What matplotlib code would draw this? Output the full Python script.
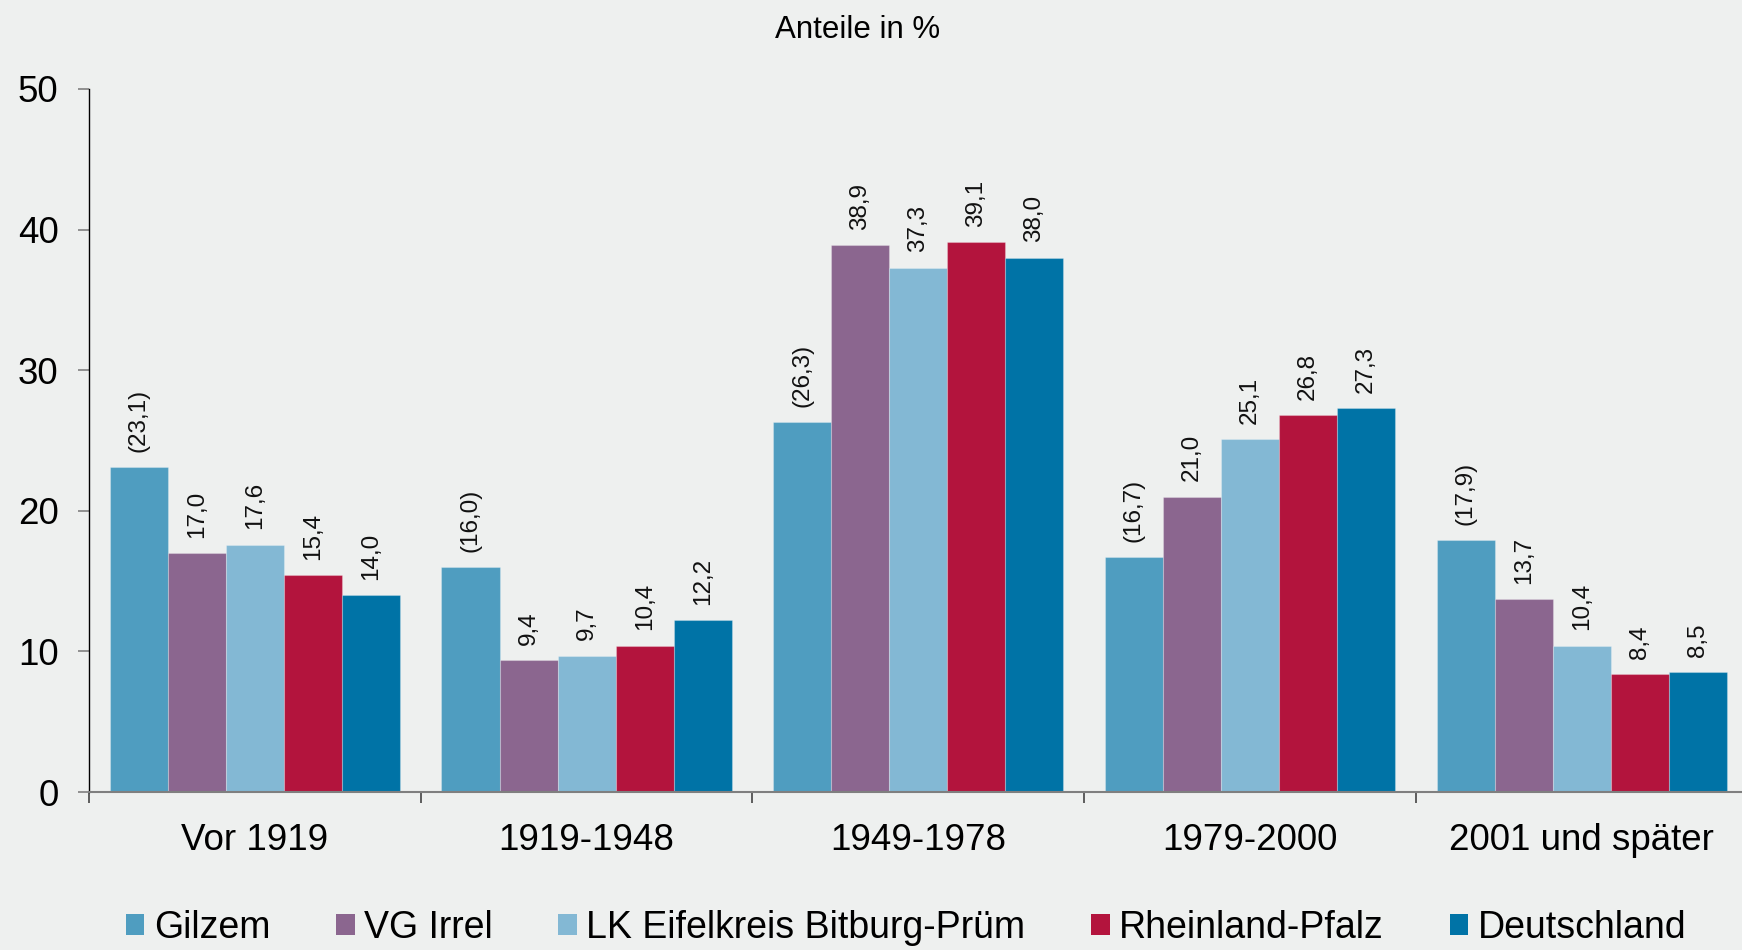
import matplotlib
matplotlib.use('Agg')
from matplotlib import pyplot as plt
from matplotlib.patches import Patch
import numpy as np

plt.rcParams['font.family'] = ['Liberation Sans', 'DejaVu Sans']

# Data
# ----
categories = ['Vor 1919', '1919-1948', '1949-1978', '1979-2000', '2001 und später']
series = ['Gilzem', 'VG Irrel', 'LK Eifelkreis Bitburg-Prüm', 'Rheinland-Pfalz', 'Deutschland']
gilzem = [23.1, 16.0, 26.3, 16.7, 17.9]
vg_irrel = [17.0, 9.4, 38.9, 21.0, 13.7]
lk_bitburg = [17.6, 9.7, 37.3, 25.1, 10.4]
rlp = [15.4, 10.4, 39.1, 26.8, 8.4]
deutschland = [14.0, 12.2, 38.0, 27.3, 8.5]
values = [gilzem, vg_irrel, lk_bitburg, rlp, deutschland]
colors = ['#4f9dc0', '#8b668f', '#83b8d4', '#b3143d', '#0073a6']
bg = '#eef0ef'

fig = plt.figure(figsize=(17.42, 9.5), dpi=100, facecolor=bg)
ax = fig.add_axes([89/1742, 1-792/950, 1-89/1742, (792-89)/950])
ax.set_facecolor(bg)

x = np.arange(len(categories))
w = 0.175
for i, (name, vals) in enumerate(zip(series, values)):
    pos = x + (i-2)*w
    ax.bar(pos, vals, width=w, color=colors[i], edgecolor=(1, 1, 1, 0.25), linewidth=0.8, label=name, zorder=2)
    for px, v in zip(pos, vals):
        txt = ('%.1f' % v).replace('.', ',')
        if i == 0:
            txt = '(' + txt + ')'
        ax.annotate(txt, (px, v), xytext=(0, 11), textcoords='offset points',
                    rotation=90, ha='center', va='bottom', fontsize=17.5, color='#111111')

ax.set_ylim(0, 50)
ax.set_xlim(-0.5, 4.483)
ax.set_yticks([0, 10, 20, 30, 40, 50])
ax.tick_params(axis='y', labelsize=26.5, length=8, width=1.2, color='#808080', pad=14)

ax.set_xticks(x)
ax.set_xticklabels(categories)
ax.tick_params(axis='x', which='major', length=0, labelsize=26.5, pad=22)
ax.set_xticks(np.arange(0, 5) - 0.5, minor=True)
ax.tick_params(axis='x', which='minor', length=8, width=1.2, color='#444444')

for s in ['top', 'right']:
    ax.spines[s].set_visible(False)
ax.spines['left'].set_color('black')
ax.spines['left'].set_linewidth(1.0)
ax.spines['bottom'].set_color('#7f7f7f')
ax.spines['bottom'].set_linewidth(1.5)

fig.text(858/1742, 1-30/950, 'Anteile in %', ha='center', va='center', fontsize=22.5)

handles = [Patch(facecolor=c, label=s) for c, s in zip(colors, series)]
fig.legend(handles=handles, loc='center', bbox_to_anchor=(906/1742, 1-928/950), ncol=5,
           frameon=False, fontsize=27, handlelength=0.5, handleheight=0.5,
           handletextpad=0.25, columnspacing=1.75, borderpad=0)

plt.savefig('out.png', dpi=100, facecolor=bg)
